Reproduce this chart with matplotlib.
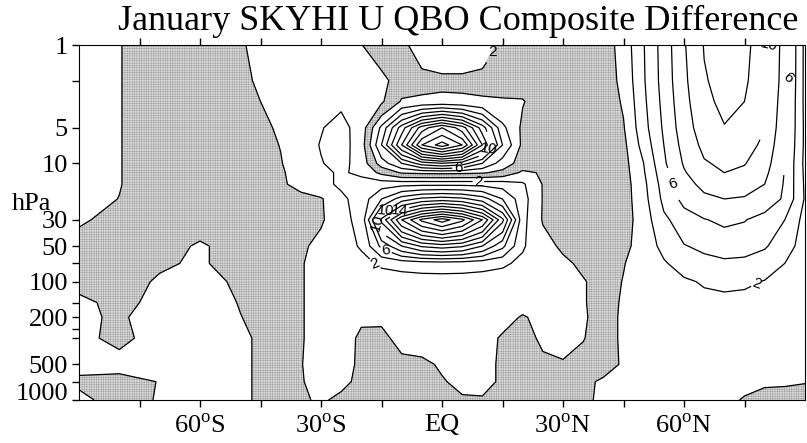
import numpy as np
import matplotlib
matplotlib.use("Agg")
import matplotlib.pyplot as plt

# latitude columns and pressure rows of the difference field (m/s)
lats = [-90, -80, -70, -60, -50, -40,
        -35, -30, -25, -20, -15, -10, -5, 0, 5, 10, 15, 20, 25, 30, 35,
        40, 45, 50, 55, 60, 65, 70, 75, 80, 85, 90]
plevs = [1, 2, 3, 5, 7, 10, 12, 15, 20, 30, 50, 70, 100, 150, 200, 300, 500, 700, 1000]

u_1 = [1.0, 0.07, -1, -1, -0.16, 1,
       1, 1, 1, 0.05, -1, -1.5, -3, -3.5, -3.5, -3, -1.5, -1.2, -1.1, -1, -1,
       -1, 0.8, 3.9, 6.9, 9.8, 12.1, 13, 12.5, 10.9, 7.0, 1.5]
u_2 = [1.0, 0.07, -1, -1, -0.43, 1,
       1, 1, 1.1, 1.2, 0.56, -1, -1.3, -1.5, -1.5, -1.3, -1.2, -1.4, -1.2, -1, -1,
       -1, 0.5, 3.8, 6.8, 9.6, 11.8, 12.8, 12.3, 10.7, 6.9, 1.5]
u_3 = [1.0, 0.07, -1, -1, -1, 1,
       1.2, 1.5, 1.7, 1.2, 0.3, -2.2, -2.4, -2.5, -2.4, -2.3, -2.2, -2.1, -1.2, -1, -1,
       -1, 0.2, 3.6, 6.6, 9.4, 11.5, 12.5, 12.0, 10.4, 6.7, 1.5]
u_5 = [1.0, 0.07, -1, -1, -1, 0.25,
       1.2, 1.9, 2.6, 1.2, -4.5, -11, -17, -20, -17, -11, -4.5, -1.6, -1.2, -1, -1,
       -1, -0.15, 3.3, 6.3, 9.1, 11.0, 11.9, 11.5, 10.0, 6.5, 1.6]
u_7 = [1.0, 0.07, -1, -1, -1, 0.05,
       1.2, 2.1, 2.8, 1.0, -6, -14, -22, -25, -22, -14, -6, -1.5, -1.2, -1, -1,
       -1, -0.5, 2.8, 6.0, 8.7, 10.5, 11.3, 10.9, 9.5, 6.3, 1.6]
u_10 = [1.0, 0.07, -1, -1, -1, -0.1,
        1, 1.9, 2.6, 1.2, -3, -6, -9, -10, -9, -6, -3, -1.2, -1.2, -1, -1,
        -1, -0.7, 2.0, 5.7, 8.2, 9.8, 10.4, 10.1, 8.9, 6.0, 1.5]
u_12 = [1.0, 0.07, -1, -1, -1, -0.3,
        1, 1.5, 2.3, 1.5, -0.5, -2.2, -2.4, -2.5, -2.4, -2.2, -1.5, 0.4, -0.2, -1, -1,
        -1, -0.8, 1.8, 5.3, 7.8, 9.4, 10.0, 9.6, 8.5, 5.9, 1.6]
u_15 = [1.0, 0.07, -1, -1, -1, -0.5,
        1, 1.5, 2.3, 3, 3.2, 3.4, 3.5, 3.5, 3.5, 3.4, 3.2, 2.3, -0.1, -1, -1,
        -1, -0.9, 1.5, 4.9, 7.2, 8.6, 9.2, 8.9, 8.0, 5.8, 1.7]
u_20 = [0.6, -0.03, -1, -1, -1, -1,
        -1, -0.2, 1.6, 2.8, 6, 9, 10.5, 11, 10.5, 9, 6, 2.8, -0.1, -1, -1,
        -1, -0.9, 1.3, 4.5, 6.6, 7.5, 8, 7.8, 7.2, 5.7, 1.8]
u_30 = [0.3, -0.7, -1, -1, -1, -1,
        -1, -0.3, 1.5, 2.5, 12.5, 20, 24.5, 27, 24.5, 20, 12.5, 2.6, -0.15, -1, -1,
        -1, -0.9, 1.0, 3.6, 5.0, 5.9, 6.4, 6.1, 5.2, 4.0, 1.3]
u_50 = [-1, -1, -1, 0.3, -1, -1,
        -0.5, 0.8, 1.2, 2.2, 6.5, 10, 12.3, 13, 12.3, 10, 6.5, 2.2, 0.8, -0.4, -1,
        -1, -0.6, 1.0, 2.5, 3.9, 4.4, 4.7, 4.6, 4.2, 3.0, 1.0]
u_70 = [-1, -1, -0.3, 0.3, -1, -1,
        -0.2, 1, 1.2, 1.4, 2.3, 2.7, 3, 3.1, 3, 2.7, 2.3, 1.6, 1.2, 0.5, -0.5,
        -1, -0.1, 1.0, 1.8, 2.8, 3.4, 3.7, 3.6, 3.0, 2.0, 0.8]
u_100 = [-0.5, -1, 0.3, 1, -0.5, -1,
         -0.2, 1, 1, 1, 1, 1, 1, 1, 1, 1, 1, 1, 1, 0.8, 0.2,
         -1, 0.1, 0.8, 1.2, 1.7, 2.2, 2.4, 2.3, 1.9, 1.4, 0.7]
u_150 = [0.4, -0.5, 0.5, 1, -0.1, -1,
         -0.2, 1, 1, 1, 1, 1, 1, 1, 1, 1, 1, 0.8, 1, 1, 0.2,
         -1, 0.3, 0.7, 0.9, 1.2, 1.4, 1.5, 1.4, 1.2, 1.0, 0.5]
u_200 = [0.4, -0.3, 1, 1, 0.05, -1,
         -0.2, 1, 1, 0.3, 0.4, 1, 1, 1, 1, 1, 0.8, -0.2, 0.6, 1, 0.3,
         -1, 0.4, 0.6, 0.8, 1.0, 1.1, 1.2, 1.1, 1.0, 0.8, 0.4]
u_300 = [0.3, -0.3, 0.5, 0.8, 0.4, -1,
         -0.2, 1, 1, -0.4, -0.6, 0.8, 1, 1, 1, 1, -0.3, -0.8, 0.4, 1, 0.1,
         -1, 0.4, 0.5, 0.6, 0.8, 0.9, 0.9, 0.9, 0.8, 0.6, 0.4]
u_500 = [0.3, 0.5, 0.5, 0.5, 0.4, -1,
         -0.1, 1, 1, -0.5, -0.7, -0.7, -0.5, 0.3, 0.8, 0.6, -0.3, -0.8, -0.5, -0.3, -0.8,
         -1, 0.3, 0.5, 0.5, 0.6, 0.7, 0.7, 0.6, 0.5, 0.4, 0.2]
u_700 = [-0.2, -0.5, 0.05, 0.5, 0.4, -1,
         -0.1, 0.5, 0.5, -0.5, -0.7, -0.7, -0.6, -0.2, 0.6, 0.6, -0.3, -0.8, -0.8, -0.8, -0.6,
         0.4, 0.5, 0.5, 0.5, 0.5, 0.5, 0.4, 0.3, 0.2, 0.15, 0.05]
u_1000 = [0.3, -0.5, 0.1, 0.5, 0.4, -1,
          -0.3, 0.3, -0.5, -0.6, -0.7, -0.7, -0.6, -0.5, -0.3, -0.2, -0.5, -0.8, -0.8, -0.8, -0.4,
          0.4, 0.5, 0.5, 0.5, 0.5, 0.4, 0.3, -0.1, -0.5, -0.5, -0.5]

rows = [u_1, u_2, u_3, u_5, u_7, u_10, u_12, u_15, u_20, u_30, u_50, u_70,
        u_100, u_150, u_200, u_300, u_500, u_700, u_1000]
U = np.array(rows)

xticks = [-60, -30, 0, 30, 60]
xlabels = ["60$^{\\rm o}$S", "30$^{\\rm o}$S", "EQ", "30$^{\\rm o}$N", "60$^{\\rm o}$N"]
yticks = [1, 5, 10, 30, 50, 100, 200, 500, 1000]

# where the contour labels sit (lat, hPa)
label_spots = [(12.5, 1.55), (-16.5, 68), (-13.8, 49), (-16, 31),
               (-14, 27), (-10.5, 26), (11.5, 7.6), (4, 10.9), (9, 14.3),
               (57.4, 13.5), (78, 104), (81.3, 1.2), (85.8, 1.5)]

plt.rcParams["font.family"] = "Liberation Serif"
plt.rcParams["mathtext.fontset"] = "custom"
plt.rcParams["mathtext.rm"] = "Liberation Serif"
plt.rcParams["hatch.color"] = "#959595"
plt.rcParams["hatch.linewidth"] = 0.3

fig = plt.figure(figsize=(8.07, 4.43), dpi=100)
ax = fig.add_axes([79 / 807, 1 - 400 / 443, 726 / 807, 355 / 443])

X, Y = np.meshgrid(lats, plevs)
ax.contourf(X, Y, U, levels=[-2, 0], colors=["#dadada"], hatches=["+++++++"])

lv = list(range(-26, 30, 2))
lab_lv = [v for v in lv if abs(v) % 4 == 2]
plain_lv = [v for v in lv if v not in lab_lv]
ax.contour(X, Y, U, levels=plain_lv, colors="k", linewidths=0.9,
           linestyles="solid")
cs = ax.contour(X, Y, U, levels=lab_lv, colors="k", linewidths=0.9,
                linestyles="solid")
ax.clabel(cs, fmt=lambda v: "%d" % abs(v), fontsize=11,
          inline=True, inline_spacing=2, manual=label_spots)
for t in cs.labelTexts:
    t.set_fontfamily("Liberation Sans")

ax.set_yscale("log")
ax.set_ylim(1000, 1)
ax.set_xlim(-90, 90)
ax.set_yticks(yticks)
ax.set_yticklabels([str(t) for t in yticks], fontsize=19)
ax.set_yticks([2, 70, 150, 250, 300, 700], minor=True)
ax.yaxis.set_minor_formatter(matplotlib.ticker.NullFormatter())
ax.set_xticks(xticks)
ax.set_xticklabels(xlabels, fontsize=19)
ax.set_xticks([-75, -45, -15, 15, 45, 75], minor=True)
ax.tick_params(which="both", direction="out", length=5, top=True, width=1)
ax.tick_params(axis="x", pad=5)
ax.tick_params(axis="y", pad=3)
ax.get_yticklabels()[-1].set_va("baseline")
ax.text(-0.092, 0.552, "hPa", transform=ax.transAxes, ha="left",
        va="center", fontsize=19)
fig.text(458 / 807, 1 - 21 / 443, "January SKYHI U QBO Composite Difference",
         ha="center", va="center", fontsize=26)

fig.savefig("out.png", dpi=100)
